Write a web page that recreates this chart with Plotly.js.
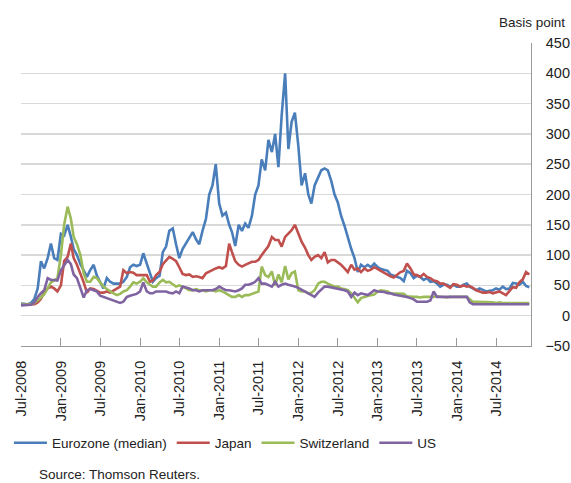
<!DOCTYPE html>
<html>
<head>
<meta charset="utf-8">
<script src="https://cdn.plot.ly/plotly-3.0.1.min.js"></script>
<style>html,body{margin:0;padding:0;background:#fff;}</style>
</head>
<body>
<div id="chart" style="width:571px;height:483px;"></div>
<script>
// Semi-monthly sampling grid: 1st and 16th of each month, Jul-2008 to Dec-2014
const dates = [];
for (let i = 0; i < 155; i++) {
  const mi = 6 + Math.floor(i / 2);
  const y = 2008 + Math.floor(mi / 12);
  const mo = (mi % 12) + 1;
  dates.push(y + '-' + String(mo).padStart(2, '0') + '-' + (i % 2 ? '16' : '01'));
}

const seriesNames = ['Eurozone (median)', 'Japan', 'Switzerland', 'US'];

const eurozone = [
  20,19,19,21,28,45,90,78,95,119,95,92,135,132,150,130,110,100,85,75,64,75,84,66,
  55,45,62,56,53,53,53,56,64,80,84,82,84,103,86,70,56,62,66,105,114,140,144,118,
  95,110,120,128,138,126,118,140,160,200,215,250,185,165,170,150,138,115,150,140,152,145,165,200,
  215,258,240,290,270,300,245,330,400,275,320,335,280,215,235,200,185,215,228,240,243,240,222,200,
  187,165,148,128,110,95,72,84,80,84,80,86,80,77,75,74,68,66,64,62,57,74,70,62,
  66,64,59,62,56,57,53,48,51,51,48,51,48,48,51,53,48,45,42,45,42,40,41,42,
  45,43,48,44,45,54,53,51,56,49,47
];

const japan = [
  18,18,18,18,19,22,28,38,45,48,45,40,50,90,97,119,95,84,70,55,38,45,44,41,
  38,38,40,38,42,45,48,75,70,72,71,67,67,68,67,56,58,67,72,85,92,97,94,90,
  80,69,67,68,64,65,64,62,70,73,76,78,80,78,82,119,105,90,84,81,84,86,89,89,
  92,100,108,115,130,125,125,114,130,136,141,150,135,122,112,100,92,97,100,95,105,88,92,92,
  88,84,78,72,84,76,78,72,78,74,76,80,77,74,71,67,65,63,68,72,74,86,78,68,
  67,64,69,64,62,58,57,53,53,49,46,52,51,48,50,48,49,46,42,40,38,38,39,37,
  38,40,37,34,41,47,46,55,60,72,68
];

const switzerland = [
  18,18,18,19,21,25,30,35,45,55,58,62,100,150,180,160,130,118,100,70,56,56,64,62,
  55,48,44,40,37,34,36,40,42,48,55,53,56,62,55,51,48,48,55,59,55,56,52,48,
  50,48,45,42,42,44,42,42,40,42,42,40,42,40,37,34,31,31,34,31,34,34,36,37,
  40,81,67,64,73,50,68,55,82,60,70,73,42,40,40,37,38,42,53,56,56,53,51,48,
  48,45,44,42,37,30,22,29,31,33,34,35,40,42,41,40,37,37,37,37,36,32,31,31,
  31,30,31,31,30,31,32,31,31,30,31,31,30,31,31,31,27,23,23,23,22,22,22,22,
  21,22,21,21,21,22,21,21,21,21,21
];

const us = [
  17,17,17,18,22,31,37,42,62,59,59,58,75,84,92,85,68,62,45,30,42,44,42,40,
  33,31,29,27,25,23,21,23,31,33,34,36,40,55,40,37,37,40,40,40,40,38,37,40,
  37,48,47,45,42,42,40,42,42,42,42,44,48,45,42,42,41,40,42,45,51,51,53,56,
  62,53,53,50,48,56,48,51,53,51,50,48,46,43,40,36,33,31,38,43,48,48,47,45,
  45,44,42,40,31,38,34,37,36,34,38,42,40,40,39,37,37,35,34,34,32,31,29,27,
  23,23,23,23,25,40,31,31,31,31,31,31,31,31,31,31,22,19,19,19,18,18,18,18,
  18,18,19,18,18,18,19,18,18,19,19
];

const colors = ['#4a7ebb', '#c0504d', '#9bbb59', '#8064a2'];
const allValues = [eurozone, japan, switzerland, us];

const yTickVals = [-50, 0, 50, 100, 150, 200, 250, 300, 350, 400, 450];
const gridVals = [0, 50, 100, 150, 200, 250, 300, 350, 400];

const traces = allValues.map((vals, k) => ({
  type: 'scatter', mode: 'lines',
  x: dates, y: vals, name: seriesNames[k],
  line: {color: colors[k], width: 2.6}
}));
traces.push({type: 'scatter', mode: 'lines', x: [], y: [], yaxis: 'y2', showlegend: false, hoverinfo: 'skip'});

const txt = '#222222';
const layout = {
  width: 571, height: 483,
  margin: {l: 21, r: 1, t: 43, b: 137},
  paper_bgcolor: '#ffffff', plot_bgcolor: '#ffffff',
  font: {family: 'Liberation Sans, Arial, sans-serif', size: 14, color: txt},
  showlegend: true,
  legend: {orientation: 'h', x: -0.022, xanchor: 'left', y: -0.32, yanchor: 'middle',
           itemwidth: 33, font: {size: 13.5, color: txt}, bgcolor: 'rgba(0,0,0,0)'},
  xaxis: {
    type: 'date', domain: [0, 0.929],
    range: ['2008-07-01', '2014-12-09'],
    tick0: '2008-07-01', dtick: 'M6', tickformat: '%b-%Y', tickangle: -90,
    ticks: 'inside', ticklen: 8, tickcolor: '#999999', tickwidth: 1,
    ticklabelstandoff: 8,
    showline: true, linecolor: '#999999', linewidth: 1,
    showgrid: false, zeroline: false,
    tickfont: {size: 14.5, color: txt}
  },
  yaxis: {
    range: [-50, 450], side: 'right',
    tickmode: 'array', tickvals: gridVals, showticklabels: false, ticks: '',
    showgrid: true, gridcolor: '#d9d9d9', gridwidth: 1.5,
    showline: true, linecolor: '#999999', linewidth: 1, zeroline: false
  },
  yaxis2: {
    overlaying: 'y', anchor: 'free', position: 1, side: 'left',
    range: [-50, 450], tickmode: 'array', tickvals: yTickVals,
    showgrid: false, showline: false, ticks: '', zeroline: false,
    tickfont: {size: 14.5, color: txt}
  },
  annotations: [
    {text: 'Basis point', xref: 'paper', yref: 'paper', x: 0.9945, y: 1.069,
     xanchor: 'right', yanchor: 'middle', showarrow: false, font: {size: 13.5, color: txt}},
    {text: 'Source: Thomson Reuters.', xref: 'paper', yref: 'paper', x: 0.029, y: -0.4257,
     xanchor: 'left', yanchor: 'middle', showarrow: false, font: {size: 13.5, color: txt}}
  ]
};

Plotly.newPlot('chart', traces, layout, {displayModeBar: false, staticPlot: true});
</script>
</body>
</html>
